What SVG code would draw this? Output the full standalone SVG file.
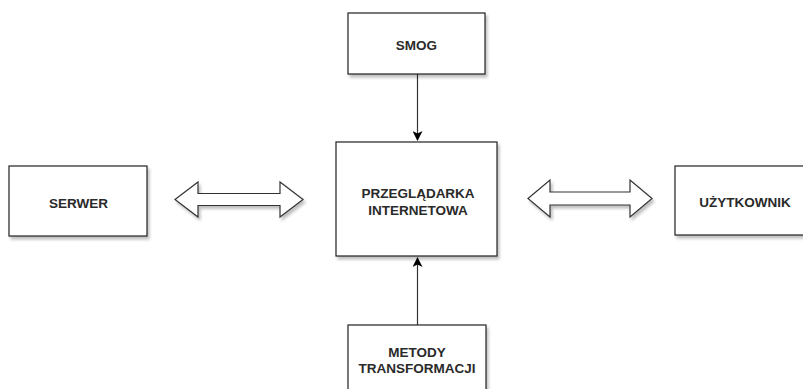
<svg xmlns="http://www.w3.org/2000/svg" width="803" height="389" viewBox="0 0 803 389">
<defs>
<filter id="sh" x="-10%" y="-10%" width="130%" height="130%">
<feGaussianBlur in="SourceAlpha" stdDeviation="1.5"/>
<feOffset dx="2" dy="3" result="b"/>
<feComponentTransfer><feFuncA type="linear" slope="0.25"/></feComponentTransfer>
<feMerge><feMergeNode/><feMergeNode in="SourceGraphic"/></feMerge>
</filter>
<marker id="ah" viewBox="0 0 10 10" refX="9" refY="5" markerWidth="10" markerHeight="10" markerUnits="userSpaceOnUse" orient="auto">
<path d="M0,0 L10,5 L0,10 L2.5,5 Z" fill="#000"/>
</marker>
</defs>
<style>
.box{fill:#fff;stroke:#222;stroke-width:1.2;filter:url(#sh)}
.lbl{font-family:"Liberation Sans",Arial,sans-serif;font-weight:bold;font-size:13.5px;fill:#2a2a2a;text-anchor:middle}
.ln{stroke:#333;stroke-width:1.2;fill:none}
.dbl{fill:#fff;stroke:#333;stroke-width:1.2;filter:url(#sh)}
</style>
<rect width="803" height="389" fill="#fff"/>
<g id="connectors">
<line class="ln" x1="417.5" y1="74" x2="417.5" y2="140" marker-end="url(#ah)"/>
<line class="ln" x1="417.5" y1="325" x2="417.5" y2="258" marker-end="url(#ah)"/>
<path class="dbl" d="M175,199.5 L198,182 L198,193.5 L280,193.5 L280,182 L303,199.5 L280,217 L280,205.5 L198,205.5 L198,217 Z"/>
<path class="dbl" d="M528,198.5 L550,180 L550,192 L630,192 L630,180 L652,198.5 L630,217 L630,205 L550,205 L550,217 Z"/>
</g>
<g id="smog">
<rect class="box" x="348" y="13" width="137" height="61"/>
<text class="lbl" x="416.5" y="50">SMOG</text>
</g>
<g id="przegladarka">
<rect class="box" x="336" y="142" width="161" height="114"/>
<text class="lbl" x="418" y="198">PRZEGLĄDARKA</text>
<text class="lbl" x="418" y="215">INTERNETOWA</text>
</g>
<g id="serwer">
<rect class="box" x="9" y="166" width="138" height="70"/>
<text class="lbl" x="78.5" y="208">SERWER</text>
</g>
<g id="uzytkownik">
<rect class="box" x="675" y="166" width="140" height="69"/>
<text class="lbl" x="745" y="207">UŻYTKOWNIK</text>
</g>
<g id="metody">
<rect class="box" x="348" y="325" width="138" height="80"/>
<text class="lbl" x="417" y="357">METODY</text>
<text class="lbl" x="417" y="373">TRANSFORMACJI</text>
</g>
</svg>
